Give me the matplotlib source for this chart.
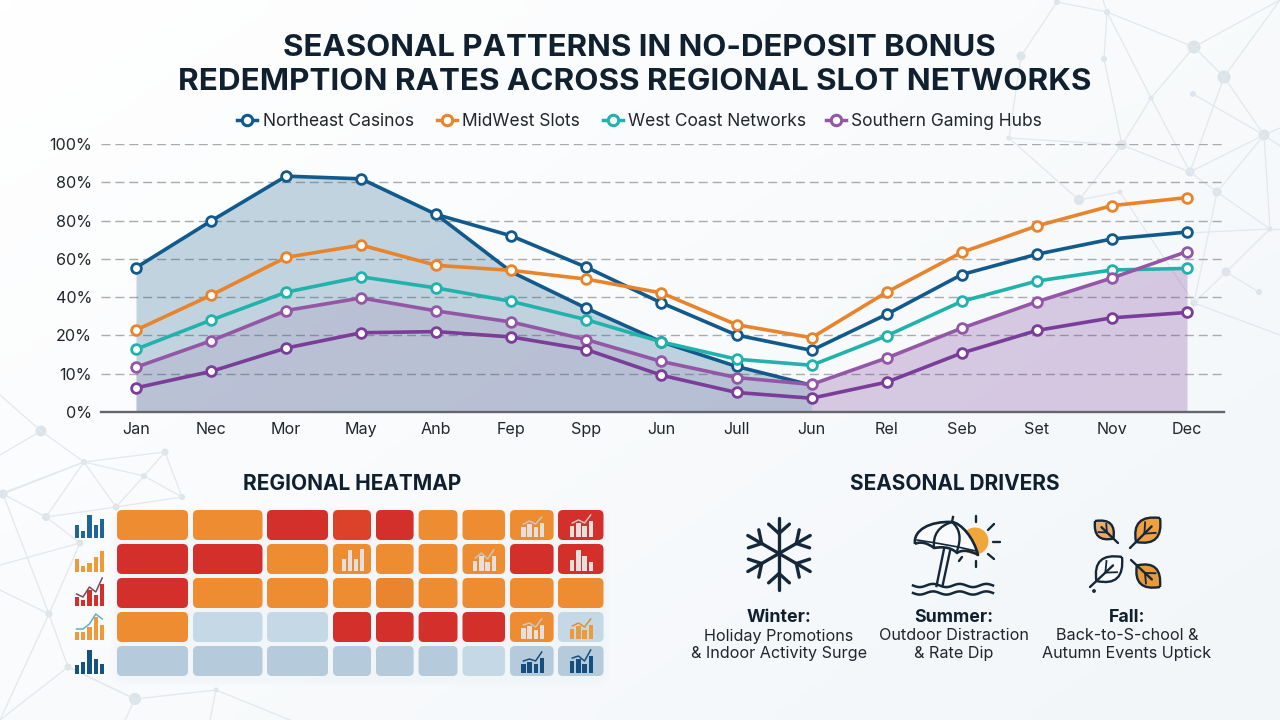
import numpy as np
import matplotlib
matplotlib.use("Agg")
import matplotlib.pyplot as plt
from matplotlib.patches import FancyBboxPatch, PathPatch, Circle, Rectangle
from matplotlib.path import Path

plt.rcParams['font.family'] = ['Inter', 'DejaVu Sans']

# ---- chart data (heights are measured in evenly spaced axis bands) ----
months = ["Jan", "Nec", "Mor", "May", "Anb", "Fep", "Spp", "Jun", "Jull", "Jun", "Rel", "Seb", "Set", "Nov", "Dec"]
band_labels = ["0%", "10%", "20%", "40%", "60%", "80%", "80%", "100%"]

northeast = [3.77, 4.99, 6.16, 6.09, 5.16, 4.60, 3.78, 2.85, 2.01, 1.61, 2.55, 3.59, 4.12, 4.52, 4.70]
northeast_area = [3.77, 4.99, 6.16, 6.09, 5.16, 3.66, 2.71, 1.83, 1.19, 0.70]
midwest = [2.14, 3.05, 4.04, 4.36, 3.83, 3.70, 3.47, 3.11, 2.28, 1.94, 3.13, 4.17, 4.86, 5.39, 5.60]
west_coast = [1.64, 2.40, 3.13, 3.53, 3.24, 2.89, 2.41, 1.83, 1.38, 1.22, 1.99, 2.89, 3.42, 3.71, 3.75]
southern = [1.17, 1.86, 2.65, 2.98, 2.64, 2.35, 1.89, 1.32, 0.90, 0.72, 1.41, 2.19, 2.88, 3.50, 4.19]
southern_low = [0.63, 1.06, 1.67, 2.07, 2.10, 1.96, 1.63, 0.96, 0.51, 0.36, 0.78, 1.54, 2.13, 2.46, 2.60]

legend_names = ["Northeast Casinos", "MidWest Slots", "West Coast Networks", "Southern Gaming Hubs"]

# heatmap levels: 0 pale blue, 1 steel blue, 2 orange, 3 red, 4 red-orange, 5 deep orange
heat_levels = [
    [2, 2, 3, 4, 3, 2, 2, 2, 3],
    [3, 3, 2, 2, 2, 2, 2, 3, 3],
    [3, 2, 2, 2, 5, 2, 2, 2, 2],
    [2, 0, 0, 3, 3, 3, 3, 2, 0],
    [1, 1, 1, 1, 1, 1, 0, 1, 1],
]
row_icon_bars = [
    [13, 7, 23, 13, 19],
    [13, 6, 9, 15, 21],
    [9, 6, 16, 11, 22],
    [8, 8, 13, 23, 15],
    [9, 12, 24, 15, 10],
]
cell_icon_bars = {
    (0, 7): [10, 13, 10, 14], (0, 8): [11, 14, 11, 16],
    (1, 3): [12, 21, 12, 22], (1, 6): [10, 15, 9, 15], (1, 8): [11, 21, 15, 9],
    (3, 7): [11, 13, 9, 14], (3, 8): [10, 13, 9, 14],
    (4, 7): [9, 11, 9, 15], (4, 8): [12, 14, 9, 17],
}

BLUE, ORANGE, TEAL, PURPLE, DEEP = "#125a8c", "#e8842c", "#22b2ac", "#9457a6", "#7a3d98"
INK = "#10202e"
TEXT = "#22262b"

fig = plt.figure(figsize=(12.8, 7.2), dpi=100)


def px_axes(left, top, right, bottom, z):
    ax = fig.add_axes([left / 1280, 1 - bottom / 720, (right - left) / 1280, (bottom - top) / 720], zorder=z)
    return ax


# ---- page background and the faint network pattern ----
bg = px_axes(0, 0, 1280, 720, 0)
bg.set_xlim(0, 1280)
bg.set_ylim(720, 0)
bg.axis("off")
gx, gy = np.meshgrid(np.linspace(0, 1, 64), np.linspace(0, 1, 36))
shade = 0.55 * gx + 0.45 * gy
grad = np.dstack([1 - 0.05 * shade, 1 - 0.035 * shade, 1 - 0.022 * shade])
bg.imshow(grad, extent=(0, 1280, 720, 0), aspect="auto", interpolation="bilinear")
bg.set_xlim(0, 1280)
bg.set_ylim(720, 0)

net_nodes = {
    "a": (1057, 2, 3), "b": (1107, 12, 3), "c": (1194, 47, 6.5), "d": (1224, 77, 6.5), "e": (1021, 56, 4.5),
    "f": (1104, 59, 3), "g": (1151, 98, 2.5), "h": (1193, 94, 3), "i": (1264, 135, 5.5), "j": (1122, 145, 5),
    "k": (1190, 172, 4.5), "l": (1217, 192, 4.5), "m": (1009, 138, 2.5), "n": (1079, 200, 5), "o": (1120, 192, 2.5),
    "p": (1270, 229, 2.5), "q": (1226, 272, 4.5), "r": (1259, 292, 3), "s": (1194, 303, 3.5),
    "A": (41, 431, 5.5), "B": (84, 462, 3), "C": (165, 452, 3.5), "D": (144, 476, 3), "E": (182, 497, 3),
    "F": (116, 507, 3.5), "G": (3, 494, 4.5), "H": (46, 517, 4), "I": (80, 543, 3.5), "J": (49, 614, 3.5),
    "K": (68, 667, 3.5), "L": (135, 699, 6), "M": (216, 690, 2.5),
}
net_edges = ["ab", "bc", "cd", "ae", "bf", "fj", "bg", "gc", "gj", "gk", "dk", "hi", "di", "ik", "il", "ip",
             "jk", "jn", "jm", "mn", "kl", "lp", "ls", "no", "os", "pq", "qr", "qs", "AB", "BC", "BD", "CD",
             "CE", "DE", "DF", "BF", "BG", "GH", "HF", "GJ", "HI", "IJ", "JK", "KL", "LM", "BH", "EF"]
NET_LINE = "#e2e8ed"
for edge in net_edges:
    p, q = net_nodes[edge[0]], net_nodes[edge[1]]
    bg.plot([p[0], q[0]], [p[1], q[1]], color=NET_LINE, lw=0.9, solid_capstyle="round")
free_edges = [((1194, 47), (1280, 0)), ((1224, 77), (1280, 0)), ((1264, 135), (1280, 128)), ((1264, 135), (1280, 146)),
              ((1270, 229), (1187, 233)), ((1270, 229), (1280, 229)), ((1194, 303), (1280, 335)),
              ((1107, 12), (1103, 0)), ((1021, 56), (1009, 138)),
              ((41, 431), (0, 395)), ((41, 431), (0, 455)), ((84, 462), (0, 494)), ((80, 543), (0, 565)),
              ((49, 614), (0, 590)), ((49, 614), (0, 720)), ((68, 667), (0, 720)), ((135, 699), (125, 720)),
              ((216, 690), (290, 720)), ((216, 690), (210, 720)), ((135, 699), (68, 667))]
for p, q in free_edges:
    bg.plot([p[0], q[0]], [p[1], q[1]], color=NET_LINE, lw=0.9)
for nx, ny, r in net_nodes.values():
    bg.add_patch(Circle((nx, ny), r, color="#dce4ea", lw=0))

# ---- line chart ----
ax = px_axes(101, 144, 1224, 412, 1)
ax.patch.set_alpha(0)
x = np.arange(len(months))
ax.set_xlim((101 - 136) / 75.07, (1224 - 136) / 75.07)
ax.set_ylim(0, 7)
ax.yaxis.grid(True, color="#a9abae", lw=1.0, ls=(0, (6.5, 3.5)), zorder=0)
ax.set_axisbelow(True)
for side in ("left", "right", "top"):
    ax.spines[side].set_visible(False)
ax.spines["bottom"].set_color("#63666c")
ax.spines["bottom"].set_linewidth(1.7)
ax.tick_params(length=0)
ax.set_xticks(x, months, fontsize=11.6, color=TEXT)
ax.set_yticks(range(8), band_labels, fontsize=11.6, color=TEXT)
ax.tick_params(axis="x", pad=7.5)
ax.tick_params(axis="y", pad=6.5)

n_left = len(northeast_area)
x_left = x[:n_left]
ax.fill_between(x_left, 0, northeast_area, color="#1a5e8a", alpha=0.26, lw=0, zorder=1)
ax.fill_between(x_left, 0, southern[:n_left], color="#8a4a98", alpha=0.13, lw=0, zorder=1.1)
fine = np.linspace(x[n_left - 1], x[-1], 300)
right_edge = np.minimum(np.interp(fine, x, southern), np.interp(fine, x, west_coast))
ax.fill_between(fine, 0, right_edge, color=DEEP, alpha=0.26, lw=0, zorder=1.1)

marker_style = dict(marker="o", ms=7.0, mfc="white", mew=2.0, lw=2.6, clip_on=False, solid_joinstyle="round")
ax.plot(x_left[4:], northeast_area[4:], color=BLUE, zorder=3, lw=2.6, solid_capstyle="round")
ax.plot(x_left[6:9], northeast_area[6:9], color=BLUE, ls="none", marker="o", ms=7.0, mfc="white", mew=2.0, zorder=3)
ax.plot(x, northeast, color=BLUE, zorder=4, **marker_style)
ax.plot(x, midwest, color=ORANGE, zorder=5, **marker_style)
ax.plot(x, west_coast, color=TEAL, zorder=6, **marker_style)
ax.plot(x, southern, color=PURPLE, zorder=7, **marker_style)
ax.plot(x, southern_low, color=DEEP, zorder=8, **marker_style)

# ---- everything in page coordinates: titles, legend, heatmap, icons ----
top = px_axes(0, 0, 1280, 720, 2)
top.set_xlim(0, 1280)
top.set_ylim(720, 0)
top.axis("off")
top.patch.set_alpha(0)

top.text(639, 48.5, "SEASONAL PATTERNS IN NO-DEPOSIT BONUS", ha="center", va="center",
         fontsize=22.5, fontweight="bold", color=INK)
top.text(635, 82.5, "REDEMPTION RATES ACROSS REGIONAL SLOT NETWORKS", ha="center", va="center",
         fontsize=22.6, fontweight="bold", color=INK)

legend_colors = [BLUE, ORANGE, TEAL, PURPLE]
legend_marks = [247, 447, 613, 836]
legend_text = [263, 462, 628, 851]
for name, col, mx, tx in zip(legend_names, legend_colors, legend_marks, legend_text):
    top.plot([mx - 10, mx + 10], [120, 120], color=col, lw=2.5)
    top.plot([mx], [120], color=col, marker="o", ms=7.5, mfc="white", mew=2.2)
    top.text(tx, 121.5, name, ha="left", va="center", fontsize=12.5, color=TEXT)

top.text(352, 484, "REGIONAL HEATMAP", ha="center", va="center", fontsize=15, fontweight="bold", color=INK)
top.text(955, 484, "SEASONAL DRIVERS", ha="center", va="center", fontsize=15, fontweight="bold", color=INK)

# heatmap
col_edges = [(117, 188), (193, 262.5), (267, 328), (333, 371), (376, 413.6), (418.6, 457.5), (462.5, 505), (510, 553.6), (558, 603.5)]
row_edges = [(510, 540), (544, 574), (578, 608), (612, 642), (646, 676)]
level_colors = {0: "#c5d8e6", 1: "#b5cadb", 2: "#ee8c31", 3: "#d3302c", 4: "#dc4229", 5: "#e9842f"}

for grow in (6, 3, 1):
    top.add_patch(FancyBboxPatch((117 - grow, 510 + 4 - grow), 486.5 + 2 * grow, 166 + 2 * grow,
                                 boxstyle="round,pad=0,rounding_size=12", fc="#8fa3b5", ec="none", alpha=0.012))

for r, row in enumerate(heat_levels):
    y0, y1 = row_edges[r]
    for c, level in enumerate(row):
        x0, x1 = col_edges[c]
        top.add_patch(FancyBboxPatch((x0, y0), x1 - x0, y1 - y0, boxstyle="round,pad=0,rounding_size=5",
                                     fc=level_colors[level], ec="none"))


def mini_chart(left, base, heights, color, bar_w, gap, trend=None):
    """Small bar glyph with an optional trend stroke above it."""
    for i, h in enumerate(heights):
        top.add_patch(Rectangle((left + i * (bar_w + gap), base - h), bar_w, h, fc=color, ec="none"))
    if trend:
        tx = [left + bar_w / 2 + i * (bar_w + gap) for i in range(len(heights))]
        ty = [base - h - 3 for h in heights]
        ty[-1] -= 3
        top.plot(tx, ty, color=trend, lw=1.1, solid_joinstyle="round")


row_colors = ["#1f6596", "#ee9a3a", "#d52f2b", "#ee9a3a", "#17527f"]
row_trend = [None, None, "#7a4a55", "#5fb0c8", None]
for r, bars in enumerate(row_icon_bars):
    mini_chart(74.5, row_edges[r][1] - 2, bars, row_colors[r], 4.2, 2.2, row_trend[r])

for (r, c), bars in cell_icon_bars.items():
    x0, x1 = col_edges[c]
    base = row_edges[r][1] - 3
    if r == 4:
        bar_col, trend = "#164f7e", "#164f7e"
    elif r == 3 and c == 8:
        bar_col, trend = "#ee9a3a", "#e88a35"
    else:
        bar_col, trend = "#e6dfdc", "#c9c6c4"
    no_line = (r, c) in {(1, 3), (1, 8)}
    mini_chart((x0 + x1) / 2 - 10.5, base, bars, bar_col, 4.2, 1.9, None if no_line else trend)

# ---- snowflake ----
icon_kw = dict(color="#14283a", lw=2.4, solid_capstyle="round")
cx, cy = 779, 553.5
for deg in (90, 30, -30, -90, 150, 210):
    t = np.radians(deg)
    top.plot([cx, cx + 36 * np.cos(t)], [cy, cy - 36 * np.sin(t)], **icon_kw)
    for d in (-48, 48):
        s = np.radians(deg + d)
        bx, by = cx + 20 * np.cos(t), cy - 20 * np.sin(t)
        top.plot([bx, bx + 14 * np.cos(s)], [by, by - 14 * np.sin(s)], **icon_kw)

# ---- beach umbrella and sun ----
top.add_patch(Circle((975, 541), 13.5, fc="#f0a63a", ec="none"))
for p, q in [((975.5, 516), (975.5, 522)), ((993, 542), (1000, 542)), ((988, 530), (994, 524)),
             ((988, 554), (994, 559)), ((975.5, 561), (975.5, 567)), ((959, 561), (962, 557))]:
    top.plot([p[0], q[0]], [p[1], q[1]], color="#14283a", lw=1.7, solid_capstyle="round")

canopy = Path(
    [(915, 544), (913, 530), (930, 521), (952, 522), (961, 523), (974, 538), (978, 555),
     (972, 551), (962, 549), (957, 553), (950, 546), (940, 547), (934, 548), (928, 543), (920, 541), (915, 544)],
    [Path.MOVETO, Path.CURVE4, Path.CURVE4, Path.CURVE4, Path.CURVE4, Path.CURVE4, Path.CURVE4,
     Path.CURVE4, Path.CURVE4, Path.CURVE4, Path.CURVE4, Path.CURVE4, Path.CURVE4, Path.CURVE4, Path.CURVE4, Path.CURVE4])
top.add_patch(PathPatch(canopy, fc="#f8fafc", ec="#14283a", lw=1.9, joinstyle="round"))
for pts in [((952, 522), (932, 528), (934, 548)), ((952, 522), (964, 532), (957, 551))]:
    top.add_patch(PathPatch(Path(pts, [Path.MOVETO, Path.CURVE3, Path.CURVE3]), fc="none", ec="#14283a", lw=1.7))
top.plot([952, 953], [522, 517], color="#14283a", lw=1.7)
top.plot([917, 936, 958, 976], [540, 543, 547, 551], color="#14283a", lw=1.2)
top.plot([944, 936.5], [549, 586], color="#14283a", lw=1.7)
top.plot([950, 942.5], [551, 586], color="#14283a", lw=1.7)
wave_x = np.linspace(913, 993, 120)
for base_y in (585.5, 593):
    top.plot(wave_x, base_y + 1.6 * np.sin((wave_x - 913) / 80 * 2 * np.pi * 3), color="#14283a", lw=1.8)


# ---- leaves ----
def leaf(tip, stem, fill, bulge=0.55):
    tip, stem = np.array(tip, float), np.array(stem, float)
    axis = stem - tip
    base = tip + axis * 0.8
    normal = np.array([-axis[1], axis[0]]) * bulge
    mid = tip + axis * 0.42
    body = Path([tip, mid + normal, base, mid - normal, tip],
                [Path.MOVETO, Path.CURVE3, Path.CURVE3, Path.CURVE3, Path.CURVE3])
    top.add_patch(PathPatch(body, fc=fill, ec="#14283a", lw=1.7, joinstyle="round"))
    top.plot([tip[0] + axis[0] * 0.28, stem[0]], [tip[1] + axis[1] * 0.28, stem[1]], color="#14283a", lw=1.7,
             solid_capstyle="round")
    v = tip + axis * 0.52
    for sign in (1, -1):
        end = v - axis * 0.2 + sign * normal * 0.32
        top.plot([v[0], end[0]], [v[1], end[1]], color="#14283a", lw=1.3)


leaf((1095, 521), (1118, 543), "#e9ac70")
leaf((1160, 518), (1130, 548), "#f0a03f")
leaf((1122, 557), (1090, 587), "#f8fafc")
leaf((1160, 587), (1131, 560), "#e89a3c")
top.add_patch(Circle((1094, 591), 1.2, color="#14283a"))

# ---- driver captions ----
captions = [(779, "Winter:", "Holiday Promotions", "& Indoor Activity Surge"),
            (954, "Summer:", "Outdoor Distraction", "& Rate Dip"),
            (1127, "Fall:", "Back-to-S-chool &", "Autumn Events Uptick")]
for cxp, head, line1, line2 in captions:
    top.text(cxp, 617.5, head, ha="center", va="center", fontsize=12.8, fontweight="bold", color=INK)
    top.text(cxp, 636, line1, ha="center", va="center", fontsize=11.65, color=TEXT)
    top.text(cxp, 653.5, line2, ha="center", va="center", fontsize=11.65, color=TEXT)

fig.savefig("out.png", dpi=100)
